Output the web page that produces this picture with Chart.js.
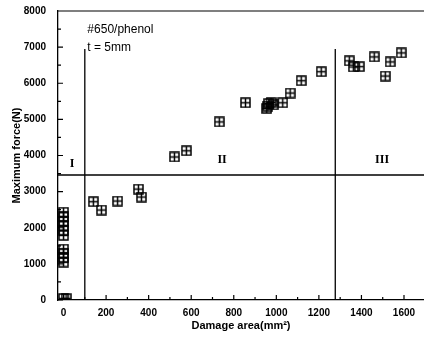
<!DOCTYPE html>
<html>
<head>
<meta charset="utf-8">
<script src="https://cdn.jsdelivr.net/npm/chart.js@4.4.1/dist/chart.umd.min.js"></script>
<style>
  html, body { margin: 0; padding: 0; background: #fff; overflow: hidden; }
  canvas { display: block; }
</style>
</head>
<body>
<canvas id="force-chart" width="424" height="347"></canvas>
<script>
// damage area (mm^2) and maximum force (N)
const damageArea = [0, 0, 0, 0, 0, 0, 0, 0, 0, 0, 0, 12,
    140, 178, 254, 352, 366, 521, 577, 732, 855,
    955, 960, 965, 975, 985, 1030, 1065, 1117, 1211,
    1343, 1362, 1390, 1460, 1512, 1535, 1587];
const maxForce = [2430, 2300, 2180, 2050, 1930, 1790, 1410, 1300, 1170, 1050, 40, 40,
    2720, 2490, 2740, 3070, 2850, 3960, 4130, 4930, 5460,
    5300, 5370, 5440, 5470, 5400, 5460, 5730, 6070, 6320,
    6620, 6450, 6460, 6730, 6200, 6590, 6840];

const xTickLabels = [0, 200, 400, 600, 800, 1000, 1200, 1400, 1600];
const yTickLabels = [0, 1000, 2000, 3000, 4000, 5000, 6000, 7000, 8000];

// region boundaries
const regionBorders = [100, 1277];
const borderTop = 6950;
const forceLevel = 3460;

const regionNames = ['I', 'II', 'III'];
const regionNameX = [40, 745, 1497];
const regionNameY = [3760, 3880, 3880];

const noteLines = ['#650/phenol', 't = 5mm'];
const noteX = 112;
const noteY = [7480, 6980];

const xMin = -26, xMax = 1694;

function makeMarker() {
    let c = document.createElement('canvas');
    c.width = 11; c.height = 11;
    let g = c.getContext('2d');
    g.strokeStyle = '#000';
    g.lineWidth = 1.5;
    g.strokeRect(1, 1, 9, 9);
    g.beginPath();
    g.moveTo(5.5, 1); g.lineTo(5.5, 10);
    g.moveTo(1, 5.5); g.lineTo(10, 5.5);
    g.stroke();
    return c;
}

const frameAndText = {
    id: 'frameAndText',
    afterDraw(chart) {
        const ctx = chart.ctx;
        const area = chart.chartArea;
        const xs = chart.scales.x, ys = chart.scales.y;
        ctx.save();
        ctx.strokeStyle = '#000';
        ctx.lineWidth = 1.2;
        ctx.beginPath();
        ctx.moveTo(area.left, area.top);
        ctx.lineTo(area.right, area.top);
        // inner ticks on x
        for (let v = 0; v <= 1600; v += 100) {
            let px = xs.getPixelForValue(v);
            let len = v % 200 === 0 ? 5 : 3;
            ctx.moveTo(px, area.bottom);
            ctx.lineTo(px, area.bottom - len);
        }
        // inner ticks on y
        for (let v = 0; v <= 8000; v += 500) {
            let py = ys.getPixelForValue(v);
            let len = v % 1000 === 0 ? 5 : 3;
            ctx.moveTo(area.left, py);
            ctx.lineTo(area.left + len, py);
        }
        ctx.stroke();

        ctx.fillStyle = '#000';
        ctx.font = '12px "Liberation Sans", Arial, sans-serif';
        ctx.textBaseline = 'middle';
        ctx.textAlign = 'left';
        noteLines.forEach((t, i) => {
            ctx.fillText(t, xs.getPixelForValue(noteX), ys.getPixelForValue(noteY[i]));
        });
        ctx.font = 'bold 12px "Liberation Serif", "Times New Roman", serif';
        ctx.textAlign = 'center';
        regionNames.forEach((t, i) => {
            ctx.fillText(t, xs.getPixelForValue(regionNameX[i]), ys.getPixelForValue(regionNameY[i]));
        });
        ctx.restore();
    }
};

function renderForceChart() {
    const lineStyle = {
        type: 'line',
        borderColor: '#000',
        borderWidth: 1.3,
        pointRadius: 0,
        fill: false
    };
    new Chart(document.getElementById('force-chart'), {
        type: 'scatter',
        data: {
            datasets: [
                Object.assign({ data: [{x: regionBorders[0], y: borderTop}, {x: regionBorders[0], y: 0}] }, lineStyle),
                Object.assign({ data: [{x: regionBorders[1], y: borderTop}, {x: regionBorders[1], y: 0}] }, lineStyle),
                Object.assign({ data: [{x: xMin, y: forceLevel}, {x: xMax, y: forceLevel}] }, lineStyle),
                {
                    label: 'Maximum force',
                    data: damageArea.map((a, i) => ({x: a, y: maxForce[i]})),
                    pointStyle: makeMarker(),
                    pointRadius: 5,
                    pointHoverRadius: 5
                }
            ]
        },
        options: {
            responsive: false,
            animation: false,
            events: [],
            layout: { autoPadding: false, padding: { top: 11, right: 0, left: 0, bottom: 0 } },
            plugins: { legend: { display: false }, tooltip: { enabled: false } },
            scales: {
                x: {
                    type: 'linear',
                    min: xMin,
                    max: xMax,
                    afterBuildTicks: scale => { scale.ticks = xTickLabels.map(v => ({value: v})); },
                    afterFit: scale => {
                        scale.height = 47;
                        scale.paddingLeft = 0;
                        scale.paddingRight = 0;
                    },
                    grid: { display: false, drawTicks: false },
                    border: { display: true, color: '#000', width: 1.3 },
                    ticks: {
                        padding: 7,
                        color: '#000',
                        maxRotation: 0,
                        autoSkip: false,
                        font: { family: '"Liberation Sans", Arial, sans-serif', size: 10, weight: 'bold' },
                        callback: v => String(v)
                    },
                    title: {
                        display: true,
                        text: 'Damage area(mm²)',
                        color: '#000',
                        padding: { top: 0, bottom: 14 },
                        font: { family: '"Liberation Sans", Arial, sans-serif', size: 11, weight: 'bold' }
                    }
                },
                y: {
                    min: 0,
                    max: 8000,
                    afterBuildTicks: scale => { scale.ticks = yTickLabels.map(v => ({value: v})); },
                    afterFit: scale => {
                        scale.width = 58;
                        scale.paddingTop = 0;
                        scale.paddingBottom = 0;
                    },
                    grid: { display: false, drawTicks: false },
                    border: { display: true, color: '#000', width: 1.3 },
                    ticks: {
                        padding: 12,
                        color: '#000',
                        font: { family: '"Liberation Sans", Arial, sans-serif', size: 10, weight: 'bold' },
                        callback: v => String(v)
                    },
                    title: {
                        display: true,
                        text: 'Maximum force(N)',
                        color: '#000',
                        padding: { top: 10, bottom: 0 },
                        font: { family: '"Liberation Sans", Arial, sans-serif', size: 11, weight: 'bold' }
                    }
                }
            }
        },
        plugins: [frameAndText]
    });
}

window.onload = renderForceChart;
</script>
</body>
</html>
